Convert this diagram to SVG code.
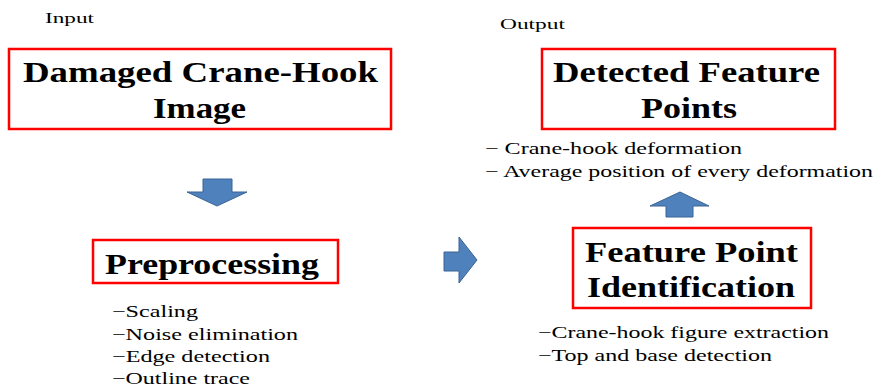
<svg xmlns="http://www.w3.org/2000/svg" width="877" height="389" viewBox="0 0 877 389">
<style>
.box{fill:#fff;stroke:#ff0000;stroke-width:2.5}
.arr{fill:#4f81bd;stroke:#3a6494;stroke-width:1}
</style>
<rect width="877" height="389" fill="#fff"/>
<text font-family="Liberation Serif" font-size="15" x="45" y="23" textLength="49" lengthAdjust="spacingAndGlyphs">Input</text>
<text font-family="Liberation Serif" font-size="15" x="500" y="29" textLength="65" lengthAdjust="spacingAndGlyphs">Output</text>
<g id="node-input">
<rect class="box" x="9" y="49" width="382" height="80"/>
<text font-family="Liberation Serif" font-size="29" font-weight="bold" x="23" y="82" textLength="355" lengthAdjust="spacingAndGlyphs">Damaged Crane-Hook</text>
<text font-family="Liberation Serif" font-size="29" font-weight="bold" x="153" y="118" textLength="93" lengthAdjust="spacingAndGlyphs">Image</text>
</g>
<g id="node-preprocessing">
<rect class="box" x="93" y="240" width="245" height="43"/>
<text font-family="Liberation Serif" font-size="29" font-weight="bold" x="105" y="274" textLength="214" lengthAdjust="spacingAndGlyphs">Preprocessing</text>
<text font-family="Liberation Serif" font-size="17" x="112" y="317" textLength="86" lengthAdjust="spacingAndGlyphs">−Scaling</text>
<text font-family="Liberation Serif" font-size="17" x="112" y="340" textLength="186" lengthAdjust="spacingAndGlyphs">−Noise elimination</text>
<text font-family="Liberation Serif" font-size="17" x="112" y="362" textLength="158" lengthAdjust="spacingAndGlyphs">−Edge detection</text>
<text font-family="Liberation Serif" font-size="17" x="112" y="384" textLength="138" lengthAdjust="spacingAndGlyphs">−Outline trace</text>
</g>
<g id="node-identification">
<rect class="box" x="573" y="228" width="238" height="80"/>
<text font-family="Liberation Serif" font-size="29" font-weight="bold" x="585" y="262" textLength="213" lengthAdjust="spacingAndGlyphs">Feature Point</text>
<text font-family="Liberation Serif" font-size="29" font-weight="bold" x="587" y="297" textLength="208" lengthAdjust="spacingAndGlyphs">Identification</text>
<text font-family="Liberation Serif" font-size="17" x="538" y="338" textLength="291" lengthAdjust="spacingAndGlyphs">−Crane-hook figure extraction</text>
<text font-family="Liberation Serif" font-size="17" x="538" y="361" textLength="234" lengthAdjust="spacingAndGlyphs">−Top and base detection</text>
</g>
<g id="node-output">
<rect class="box" x="542" y="49" width="293" height="80"/>
<text font-family="Liberation Serif" font-size="29" font-weight="bold" x="553" y="82" textLength="267" lengthAdjust="spacingAndGlyphs">Detected Feature</text>
<text font-family="Liberation Serif" font-size="29" font-weight="bold" x="641" y="118" textLength="96" lengthAdjust="spacingAndGlyphs">Points</text>
<text font-family="Liberation Serif" font-size="17" x="485" y="154" textLength="257" lengthAdjust="spacingAndGlyphs">− Crane-hook deformation</text>
<text font-family="Liberation Serif" font-size="17" x="485" y="177" textLength="388" lengthAdjust="spacingAndGlyphs">− Average position of every deformation</text>
</g>
<g id="connectors">
<polygon class="arr" points="203,179 232,179 232,192 247,192 217,206 187,192 203,192"/>
<polygon class="arr" points="444,252 459,252 459,237 477,260 459,283 459,271 444,271"/>
<polygon class="arr" points="666,217 693,217 693,206 709,206 680,192 650,206 666,206"/>
</g>
</svg>
